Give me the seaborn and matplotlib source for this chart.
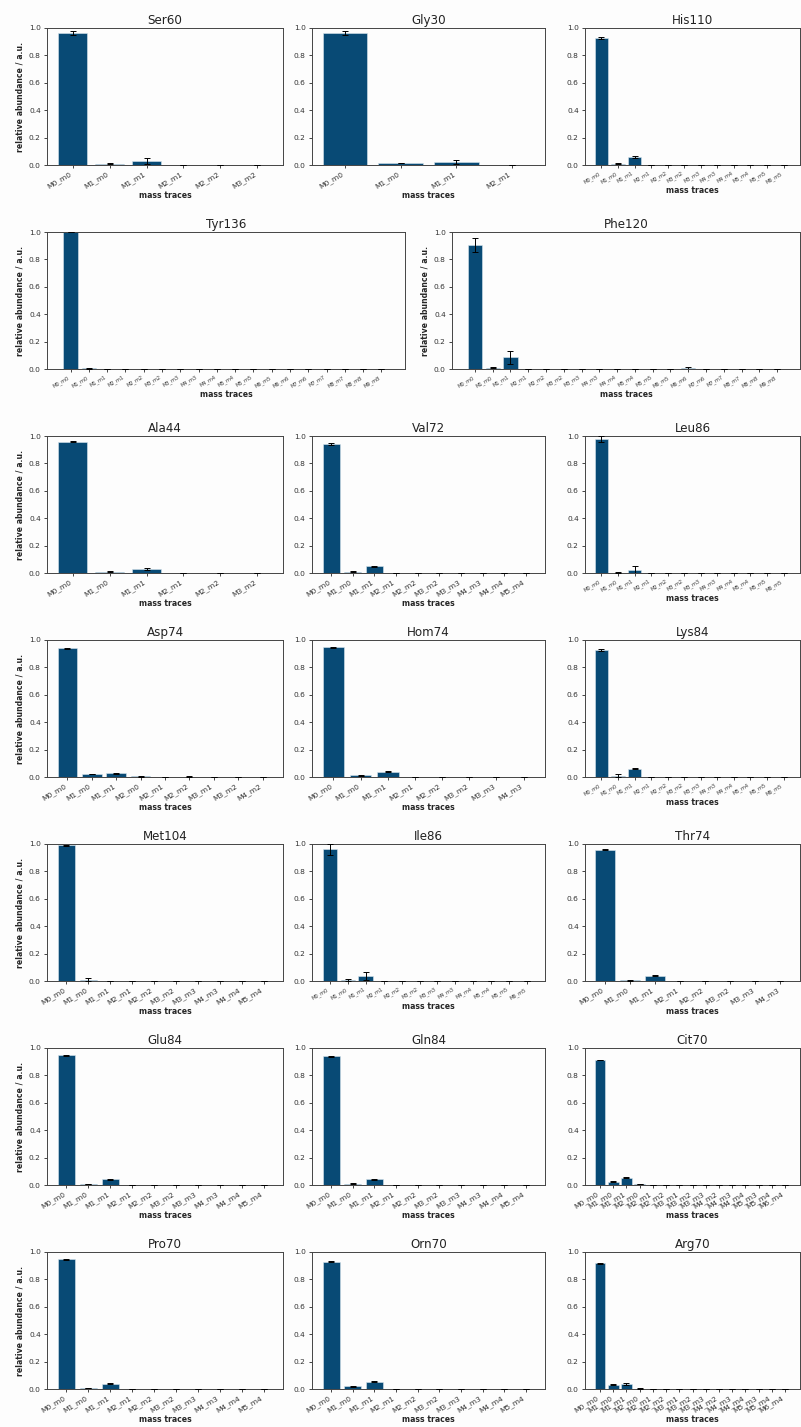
import numpy as np
import pandas as pd
import matplotlib
matplotlib.use("Agg")
import matplotlib.pyplot as plt
import seaborn as sns

sns.set_style("ticks")
plt.rcParams["font.family"] = ["DejaVu Sans"]

# ---- mass trace label sets ----
traces_4 = ["M0_m0", "M1_m0", "M1_m1", "M2_m1"]
traces_6 = traces_4 + ["M2_m2", "M3_m2"]
traces_8 = traces_6 + ["M3_m3", "M4_m3"]
traces_10 = traces_8 + ["M4_m4", "M5_m4"]
traces_12 = traces_10 + ["M5_m5", "M6_m5"]
traces_18 = traces_12 + ["M6_m6", "M7_m6", "M7_m7", "M8_m7", "M8_m8", "M9_m8"]
traces_9 = ["M0_m0", "M1_m0", "M1_m1", "M2_m0", "M2_m1", "M2_m2", "M3_m1", "M3_m2", "M4_m2"]
traces_15 = ["M0_m0", "M1_m0", "M1_m1", "M2_m0", "M2_m1", "M2_m2", "M3_m1", "M3_m2",
             "M3_m3", "M4_m2", "M4_m3", "M4_m4", "M5_m3", "M5_m4", "M6_m4"]

# ---- values (mean relative abundance) and error bars ----
ser60_val = [0.962, 0.010, 0.030, 0, 0, 0]
ser60_err = [0.015, 0.004, 0.020, 0, 0, 0]
gly30_val = [0.965, 0.015, 0.020, 0]
gly30_err = [0.015, 0.003, 0.015, 0]
his110_val = [0.925, 0.010, 0.060, 0, 0, 0, 0, 0, 0, 0, 0, 0]
his110_err = [0.006, 0.002, 0.006, 0, 0, 0, 0, 0, 0, 0, 0, 0]
tyr136_val = [1.0, 0.004] + [0] * 16
tyr136_err = [0.0, 0.003] + [0] * 16
phe120_val = [0.905, 0.010, 0.085, 0, 0, 0, 0, 0, 0, 0, 0, 0, 0.006, 0, 0, 0, 0, 0]
phe120_err = [0.050, 0.004, 0.050, 0, 0, 0, 0, 0, 0, 0, 0, 0, 0.012, 0, 0, 0, 0, 0]
ala44_val = [0.958, 0.010, 0.030, 0, 0, 0]
ala44_err = [0.004, 0.002, 0.005, 0, 0, 0]
val72_val = [0.942, 0.010, 0.048, 0, 0, 0, 0, 0, 0, 0]
val72_err = [0.005, 0.002, 0.005, 0, 0, 0, 0, 0, 0, 0]
leu86_val = [0.978, 0.003, 0.022, 0, 0, 0, 0, 0, 0, 0, 0, 0]
leu86_err = [0.020, 0.002, 0.030, 0, 0, 0, 0, 0, 0, 0, 0, 0]
asp74_val = [0.940, 0.022, 0.027, 0.004, 0, 0.002, 0, 0, 0]
asp74_err = [0.005, 0.003, 0.005, 0.001, 0, 0.002, 0, 0, 0]
hom74_val = [0.948, 0.012, 0.038, 0, 0, 0, 0, 0]
hom74_err = [0.004, 0.003, 0.004, 0, 0, 0, 0, 0]
lys84_val = [0.926, 0.010, 0.062, 0, 0, 0, 0, 0, 0, 0, 0, 0]
lys84_err = [0.008, 0.012, 0.003, 0, 0, 0, 0, 0, 0, 0, 0, 0]
met104_val = [0.990, 0.010, 0, 0, 0, 0, 0, 0, 0, 0]
met104_err = [0.005, 0.010, 0, 0, 0, 0, 0, 0, 0, 0]
ile86_val = [0.960, 0.008, 0.035, 0, 0, 0, 0, 0, 0, 0, 0, 0]
ile86_err = [0.040, 0.005, 0.030, 0, 0, 0, 0, 0, 0, 0, 0, 0]
thr74_val = [0.958, 0.004, 0.040, 0, 0, 0, 0, 0]
thr74_err = [0.005, 0.002, 0.005, 0, 0, 0, 0, 0]
glu84_val = [0.948, 0.006, 0.042, 0, 0, 0, 0, 0, 0, 0]
glu84_err = [0.003, 0.002, 0.003, 0, 0, 0, 0, 0, 0, 0]
gln84_val = [0.938, 0.010, 0.042, 0, 0, 0, 0, 0, 0, 0]
gln84_err = [0.004, 0.003, 0.003, 0, 0, 0, 0, 0, 0, 0]
cit70_val = [0.912, 0.025, 0.052, 0.006, 0, 0, 0, 0, 0, 0, 0, 0, 0, 0, 0]
cit70_err = [0.003, 0.004, 0.004, 0.001, 0, 0, 0, 0, 0, 0, 0, 0, 0, 0, 0]
pro70_val = [0.948, 0.006, 0.040, 0, 0, 0, 0, 0, 0, 0]
pro70_err = [0.003, 0.002, 0.003, 0, 0, 0, 0, 0, 0, 0]
orn70_val = [0.928, 0.020, 0.052, 0, 0, 0, 0, 0, 0, 0]
orn70_err = [0.004, 0.003, 0.003, 0, 0, 0, 0, 0, 0, 0]
arg70_val = [0.918, 0.032, 0.038, 0.003, 0, 0, 0, 0, 0, 0, 0, 0, 0, 0, 0]
arg70_err = [0.004, 0.006, 0.006, 0.001, 0, 0, 0, 0, 0, 0, 0, 0, 0, 0, 0]

panel_titles = ["Ser60", "Gly30", "His110", "Tyr136", "Phe120",
                "Ala44", "Val72", "Leu86", "Asp74", "Hom74", "Lys84",
                "Met104", "Ile86", "Thr74", "Glu84", "Gln84", "Cit70",
                "Pro70", "Orn70", "Arg70"]
panel_traces = [traces_6, traces_4, traces_12, traces_18, traces_18,
                traces_6, traces_10, traces_12, traces_9, traces_8, traces_12,
                traces_10, traces_12, traces_8, traces_10, traces_10, traces_15,
                traces_10, traces_10, traces_15]
panel_values = [ser60_val, gly30_val, his110_val, tyr136_val, phe120_val,
                ala44_val, val72_val, leu86_val, asp74_val, hom74_val, lys84_val,
                met104_val, ile86_val, thr74_val, glu84_val, gln84_val, cit70_val,
                pro70_val, orn70_val, arg70_val]
panel_errors = [ser60_err, gly30_err, his110_err, tyr136_err, phe120_err,
                ala44_err, val72_err, leu86_err, asp74_err, hom74_err, lys84_err,
                met104_err, ile86_err, thr74_err, glu84_err, gln84_err, cit70_err,
                pro70_err, orn70_err, arg70_err]
tiny_ticks = {"His110", "Tyr136", "Phe120", "Leu86", "Lys84", "Ile86"}

# ---- layout (pixels) ----
W, H = 801, 1427
BG = "#fdfdfd"
BAR = "#084a75"
row_tops = [28, 232, 436, 640, 844, 1048, 1252]
ax_h = 137
cols3 = [(47, 283), (312, 545), (585, 800)]
cols2 = [(47, 405), (452, 800)]

fig = plt.figure(figsize=(W / 100, H / 100), dpi=100, facecolor=BG)

slots = []
for r, top in enumerate(row_tops):
    cols = cols2 if r == 1 else cols3
    for c, (x0, x1) in enumerate(cols):
        slots.append((x0, x1, top, r, c))

for i, (x0, x1, top, r, c) in enumerate(slots):
    title = panel_titles[i]
    traces = panel_traces[i]
    vals = panel_values[i]
    errs = panel_errors[i]
    n = len(traces)
    ax = fig.add_axes([x0 / W, 1 - (top + ax_h) / H, (x1 - x0) / W, ax_h / H])
    ax.set_facecolor(BG)
    df = pd.DataFrame({"trace": traces, "abundance": vals})
    sns.barplot(data=df, x="trace", y="abundance", color=BAR, saturation=1,
                width=0.8, errorbar=None, ax=ax, edgecolor="#d9e6ee", linewidth=0.4)
    ax.errorbar(np.arange(n), vals, yerr=errs, fmt="none", ecolor="black",
                elinewidth=0.7, capsize=2, capthick=0.7, zorder=5)
    pad = 0.05 * (n - 1 + 0.8)
    ax.set_xlim(-0.4 - pad, n - 1 + 0.4 + pad)
    ax.set_ylim(0, 1.0)
    ax.set_yticks([0, 0.2, 0.4, 0.6, 0.8, 1.0])
    ax.set_yticklabels(["0.0", "0.2", "0.4", "0.6", "0.8", "1.0"])
    fs = 3.6 if title in tiny_ticks else 5.4
    ax.set_xticks(np.arange(n))
    ax.set_xticklabels(traces, rotation=30, ha="right", fontsize=fs, color="#333333")
    ax.tick_params(axis="y", labelsize=5.4, labelcolor="#333333", length=2.5, width=0.6, pad=2)
    ax.tick_params(axis="x", length=2.5, width=0.6, pad=1.5)
    for s in ax.spines.values():
        s.set_visible(True)
        s.set_color("#444444")
        s.set_linewidth(0.7)
    ax.set_title(title, fontsize=8.6, pad=3, color="#222222")
    ax.set_xlabel("mass traces", fontsize=5.6, fontweight="bold", labelpad=1)
    if c == 0 or r == 1:
        ax.set_ylabel("relative abundance / a.u.", fontsize=5.6, fontweight="bold", labelpad=3)
    else:
        ax.set_ylabel("")

fig.savefig("out.png", dpi=100, facecolor=BG)
